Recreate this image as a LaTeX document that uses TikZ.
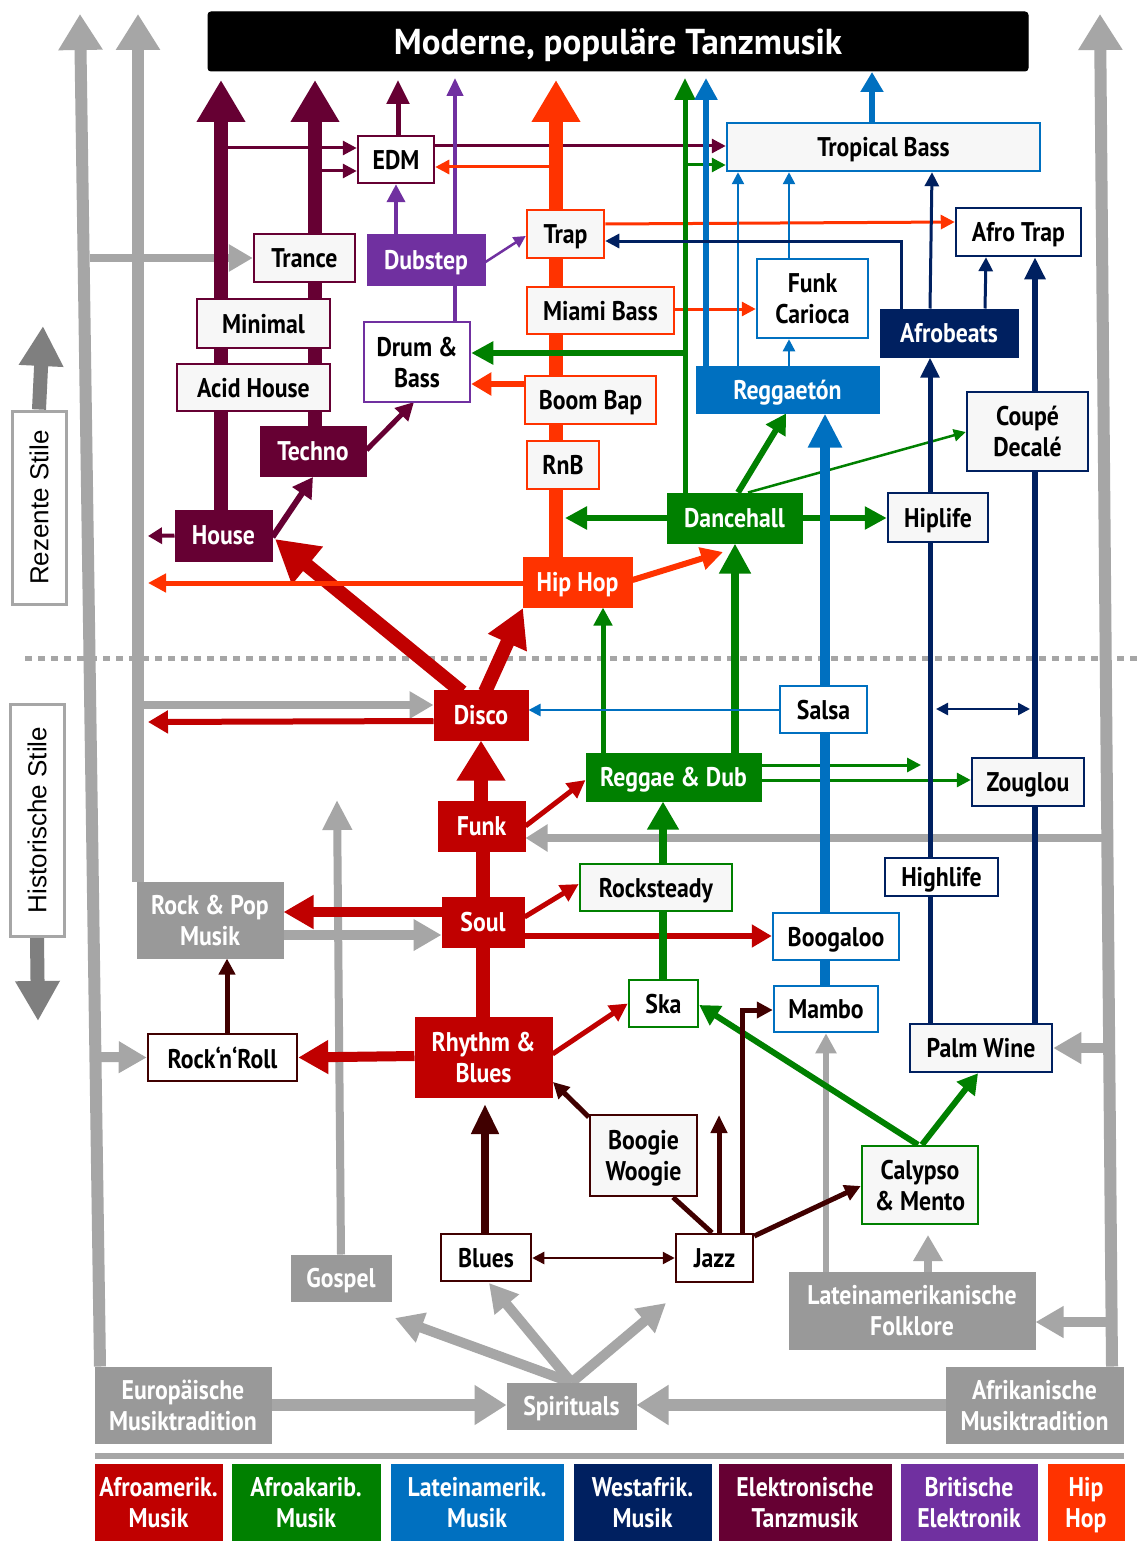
\documentclass[tikz,border=0pt]{standalone}
\usepackage{fontspec}
\setmainfont{PT Sans}[FakeStretch=0.88]
\newfontfamily\titlefont{PT Sans}[FakeStretch=0.97]
\newfontfamily\labfont{Liberation Sans}
\usetikzlibrary{arrows.meta,calc}
\definecolor{afr}{HTML}{C00000}
\definecolor{gre}{HTML}{008000}
\definecolor{lat}{HTML}{0070C0}
\definecolor{wes}{HTML}{002060}
\definecolor{ele}{HTML}{660033}
\definecolor{bri}{HTML}{7030A0}
\definecolor{hip}{HTML}{FF3300}
\definecolor{brn}{HTML}{400000}
\definecolor{gln}{HTML}{A6A6A6}
\definecolor{gbx}{HTML}{999999}
\definecolor{lbg}{HTML}{F7F7F7}
\definecolor{gar}{HTML}{7F7F7F}
\tikzset{
  wb/.style={draw=#1, fill=lbg, line width=2.5pt, text=black, inner sep=0pt, align=center, text depth=0pt},
  fb/.style={draw=#1, fill=#1, line width=1pt, text=white, inner sep=0pt, align=center, text depth=0pt},
  aw/.style n args={3}{line width=#1pt, -{Triangle[width=#2pt,length=#3pt]}},
  dw/.style n args={3}{line width=#1pt, {Triangle[width=#2pt,length=#3pt]}-{Triangle[width=#2pt,length=#3pt]}},
  every node/.style={font=\bfseries\fontsize{27}{31}\selectfont}
}
\newcommand\bx[7]{\node[#1, minimum width={(#4)-(#2)}, minimum height={(#5)-(#3)}] (#6) at ({((#2)+(#4))/2},{((#3)+(#5))/2}) {#7};}
\begin{document}
\begin{tikzpicture}[x=1pt,y=-1pt]
\fill[white] (0,0) rectangle (1141,1541);
\useasboundingbox (0,0) rectangle (1141,1541);

\pgfdeclarelayer{front}
\pgfsetlayers{main,front}
\begin{pgfonlayer}{front}
\bx{fb=black,rounded corners=3pt,font=\titlefont\bfseries\fontsize{36}{40}\selectfont}{208}{12}{1028}{71}{Title}{Moderne, populäre Tanzmusik}
\bx{wb=ele,fill=white}{358}{136}{434}{183}{EDM}{EDM}
\bx{wb=lat}{727}{123}{1040}{171}{TB}{Tropical Bass}
\bx{wb=ele}{254}{234}{355}{282}{Trance}{Trance}
\bx{fb=bri}{367}{234}{485}{285}{Dub}{Dubstep}
\bx{wb=hip}{527}{210}{604}{258}{Trap}{Trap}
\bx{wb=wes,fill=white}{956}{208}{1081}{256}{AT}{Afro Trap}
\bx{wb=ele}{197}{299}{330}{348}{Min}{Minimal}
\bx{wb=hip}{527}{287}{674}{334}{MB}{Miami Bass}
\bx{wb=lat,fill=white}{757}{259}{868}{338}{FC}{Funk\\Carioca}
\bx{fb=wes}{880}{309}{1018}{357}{AB}{Afrobeats}
\bx{wb=bri,fill=white}{364}{322}{470}{402}{DnB}{Drum \&\\Bass}
\bx{wb=ele}{177}{364}{330}{411}{AH}{Acid House}
\bx{wb=hip}{525}{376}{656}{424}{BB}{Boom Bap}
\bx{fb=lat}{696}{366}{879}{413}{Reg}{Reggaetón}
\bx{wb=wes}{967}{392}{1088}{471}{CD}{Coupé\\Decalé}
\bx{fb=ele}{260}{426}{366}{476}{Tech}{Techno}
\bx{wb=hip}{527}{441}{599}{489}{RnB}{RnB}
\bx{fb=gre}{667}{493}{802}{543}{DH}{Dancehall}
\bx{wb=wes}{888}{493}{988}{542}{HL}{Hiplife}
\bx{fb=ele}{175}{510}{272}{561}{House}{House}
\bx{fb=hip}{523}{557}{632}{607}{HH}{Hip Hop}
\bx{fb=afr}{434}{690}{528}{740}{Disco}{Disco}
\bx{wb=lat,fill=white}{780}{686}{867}{733}{Salsa}{Salsa}
\bx{fb=gre}{586}{753}{761}{801}{RD}{Reggae \& Dub}
\bx{wb=wes}{972}{758}{1084}{806}{Zou}{Zouglou}
\bx{fb=afr}{438}{801}{525}{851}{Funk}{Funk}
\bx{fb=gbx}{137}{882}{283}{958}{RP}{Rock \& Pop\\Musik}
\bx{wb=gre}{580}{864}{732}{911}{RS}{Rocksteady}
\bx{wb=wes,fill=white}{885}{858}{998}{896}{HiL}{Highlife}
\bx{fb=afr}{442}{897}{524}{947}{Soul}{Soul}
\bx{wb=lat,fill=white}{773}{913}{899}{960}{Boog}{Boogaloo}
\bx{wb=gre,fill=white}{629}{980}{698}{1027}{Ska}{Ska}
\bx{wb=lat,fill=white}{774}{986}{878}{1032}{Mambo}{Mambo}
\bx{wb=wes}{910}{1024}{1052}{1072}{PW}{Palm Wine}
\bx{wb=brn,fill=white}{148}{1034}{297}{1081}{RnR}{Rock‘n‘Roll}
\bx{fb=afr}{415}{1017}{552}{1097}{RB}{Rhythm \&\\Blues}
\bx{wb=brn}{590}{1115}{697}{1196}{BW}{Boogie\\Woogie}
\bx{wb=gre}{862}{1146}{978}{1224}{Cal}{Calypso\\\& Mento}
\bx{fb=gbx}{291}{1255}{391}{1301}{Gos}{Gospel}
\bx{wb=brn,fill=white}{441}{1234}{531}{1281}{Blues}{Blues}
\bx{wb=brn,fill=white}{676}{1234}{753}{1282}{Jazz}{Jazz}
\bx{fb=gbx}{789}{1272}{1035}{1349}{LF}{Lateinamerikanische\\Folklore}
\bx{fb=gbx}{95}{1367}{271}{1443}{EM}{Europäische\\Musiktradition}
\bx{fb=gbx}{507}{1383}{636}{1429}{Spi}{Spirituals}
\bx{fb=gbx}{946}{1367}{1123}{1443}{AM}{Afrikanische\\Musiktradition}
% legend
\bx{fb=afr}{95}{1464}{222}{1541}{Lg1}{Afroamerik.\\Musik}
\bx{fb=gre}{232}{1464}{380}{1541}{Lg2}{Afroakarib.\\Musik}
\bx{fb=lat}{391}{1464}{563}{1541}{Lg3}{Lateinamerik.\\Musik}
\bx{fb=wes}{574}{1464}{711}{1541}{Lg4}{Westafrik.\\Musik}
\bx{fb=ele}{719}{1464}{891}{1541}{Lg5}{Elektronische\\Tanzmusik}
\bx{fb=bri}{901}{1464}{1037}{1541}{Lg6}{Britische\\Elektronik}
\bx{fb=hip}{1048}{1464}{1124}{1541}{Lg7}{Hip\\Hop}
% side labels
\node[draw=gln, fill=white, line width=3pt, rotate=90, minimum width=193, minimum height=54, inner sep=0pt, font=\labfont\fontsize{26}{30}\selectfont] (Rez) at (39,507.5) {Rezente Stile};
\node[draw=gln, fill=white, line width=3pt, rotate=90, minimum width=232, minimum height=54, inner sep=0pt, font=\labfont\fontsize{26}{30}\selectfont] (Hist) at (37,820) {Historische Stile};
\end{pgfonlayer}

\coordinate (RezTip) at (43,326);
\coordinate (HistTip) at (38,1021);
\draw[gar, aw={14}{42}{40}] (Rez.east) -- (RezTip);
\draw[gar, aw={14}{42}{40}] (Hist.west) -- (HistTip);

% dotted separator and bottom rule
\draw[gln, line width=5pt, dash pattern=on 7pt off 6pt] (25,658) -- (1141,658);
\draw[gln, line width=6pt] (95,1456) -- (1124,1456);

% ---------- grey lines
\draw[gln, aw={12}{42}{36}] (EM.north -| 100,0) -- (80,14);
\draw[gln, aw={12}{42}{36}] (RP.north -| 138,0) -- (138,14);
\draw[gln, aw={12}{42}{36}] (AM.north -| 1112,0) -- (1100,14);
\draw[gln, aw={8}{26}{24}] (90,258) -- (Trance.west);
\draw[gln, aw={8}{26}{24}] (138,705) -- (Disco.west |- 0,705);
\draw[gln, aw={10}{30}{28}] (RP.east |- 0,935) -- (Soul.west |- 0,935);
\draw[gln, aw={10}{30}{28}] (97,1057) -- (RnR.west);
\draw[gln, aw={8}{26}{22}] (1107,838) -- (Funk.east |- 0,838);
\draw[gln, aw={10}{30}{28}] (1115,1048) -- (PW.east);
\draw[gln, aw={10}{30}{28}] (1113,1322) -- (LF.east |- 0,1322);
\draw[gln, aw={12}{38}{32}] (EM.east |- 0,1405) -- (Spi.west |- 0,1405);
\draw[gln, aw={12}{38}{32}] (AM.west |- 0,1405) -- (Spi.east |- 0,1405);
\draw[gln, aw={10}{30}{28}] (Spi.north) -- (395,1318);
\draw[gln, aw={10}{30}{28}] (Spi.north) -- (489,1283);
\draw[gln, aw={10}{30}{28}] (Spi.north) -- (666,1303);
\draw[gln, aw={8}{28}{30}] (Gos.north) -- (337,800);
\draw[gln, aw={6}{20}{20}] (LF.north -| Mambo.south) -- (Mambo.south);
\draw[gln, aw={8}{28}{26}] (LF.north -| 928,0) -- (928,1235);

% ---------- thick red spine
\draw[afr, line width=14pt] (RB.north -| 483,0) -- (Soul.south -| 483,0);
\draw[afr, line width=14pt] (Soul.north -| 483,0) -- (Funk.south -| 483,0);
\draw[afr, aw={14}{46}{40}] (Funk.north -| 481,0) -- (Disco.south -| 481,0);
\draw[afr, aw={14}{46}{42}] (462,692) -- (275,539);
\draw[afr, aw={14}{40}{38}] (485,692) -- (523,608);
\draw[afr, aw={6}{22}{20}] (Disco.west |- 0,721) -- (148,722);
\draw[afr, aw={10}{32}{30}] (Soul.west |- 0,912) -- (RP.east |- 0,912);
\draw[afr, aw={10}{32}{30}] (RB.west |- 0,1056) -- (RnR.east);
\draw[afr, aw={5}{18}{18}] (Funk.east |- 0,826) -- (RD.west |- 0,780);
\draw[afr, aw={5}{18}{18}] (Soul.east |- 0,917) -- (RS.west |- 0,884);
\draw[afr, aw={6}{22}{20}] (Soul.east |- 0,936) -- (Boog.west |- 0,936);
\draw[afr, aw={5}{18}{18}] (RB.east |- 0,1054) -- (Ska.west);

% ---------- electronic dance music (maroon)
\draw[ele, aw={14}{46}{42}] (House.north -| 221,0) -- (221,80);
\draw[ele, aw={14}{46}{42}] (Tech.north -| 315,0) -- (315,80);
\draw[ele, aw={5}{22}{24}] (EDM.north -| 398,0) -- (398,80);
\draw[ele, aw={3}{14}{14}] (221,148) -- (EDM.west |- 0,148);
\draw[ele, aw={3}{14}{14}] (EDM.east |- 0,146) -- (TB.west |- 0,146);
\draw[ele, aw={3}{14}{14}] (315,171) -- (EDM.west |- 0,171);
\draw[ele, aw={5}{18}{18}] (Tech.east |- 0,450) -- (414,402);
\draw[ele, aw={6}{22}{20}] (House.east |- 0,537) -- (313,477);
\draw[ele, aw={4}{16}{14}] (House.west) -- (148,536);

% ---------- British electronic (purple)
\draw[bri, aw={4}{16}{18}] (DnB.north -| 455,0) -- (455,78);
\draw[bri, aw={4}{18}{18}] (Dub.north -| EDM.south) -- (EDM.south);
\draw[bri, aw={2.5}{12}{12}] (Dub.east |- 0,262) -- (Trap.west |- 0,236);

% ---------- hip hop (orange)
\draw[hip, aw={14}{46}{42}] (HH.north -| 556,0) -- (556,80);
\draw[hip, aw={3}{14}{14}] (556,167) -- (EDM.east |- 0,167);
\draw[hip, aw={6}{22}{20}] (556,384) -- (DnB.east |- 0,384);
\draw[hip, aw={3}{14}{14}] (Trap.east |- 0,224) -- (AT.west |- 0,222);
\draw[hip, aw={3}{14}{14}] (MB.east |- 0,309) -- (FC.west |- 0,309);
\draw[hip, aw={5}{18}{18}] (HH.west |- 0,583) -- (148,583);
\draw[hip, aw={6}{22}{22}] (HH.east |- 0,580) -- (723,552);

% ---------- afro-caribbean (green)
\draw[gre, aw={5}{20}{22}] (DH.north -| 685,0) -- (685,78);
\draw[gre, aw={3}{14}{14}] (685,165) -- (TB.west |- 0,165);
\draw[gre, aw={6}{22}{22}] (685,353) -- (DnB.east |- 0,353);
\draw[gre, aw={6}{22}{22}] (DH.west) -- (565,518);
\draw[gre, aw={6}{22}{22}] (DH.east) -- (HL.west |- 0,518);
\draw[gre, aw={6}{22}{20}] (DH.north -| 738,0) -- (Reg.south -| 786,0);
\draw[gre, aw={2.5}{12}{12}] (DH.north -| 748,0) -- (CD.west |- 0,432);
\draw[gre, aw={8}{30}{30}] (RD.north -| 735,0) -- (DH.south -| 735,0);
\draw[gre, aw={5}{18}{18}] (RD.north -| 603,0) -- (HH.south -| 603,0);
\draw[gre, aw={3}{14}{14}] (RD.east |- 0,765) -- (921,765);
\draw[gre, aw={3}{14}{14}] (RD.east |- 0,780) -- (Zou.west |- 0,780);
\draw[gre, aw={8}{30}{28}] (RS.north -| 663,0) -- (RD.south -| 663,0);
\draw[gre, line width=8pt] (Ska.north -| 663,0) -- (RS.south -| 663,0);
\draw[gre, aw={6}{22}{20}] (Cal.north -| 918,0) -- (Ska.east |- 0,1005);
\draw[gre, aw={6}{22}{20}] (Cal.north -| 922,0) -- (PW.south -| 978,0);

% ---------- latin american (blue)
\draw[lat, aw={6}{22}{22}] (Reg.north -| 706,0) -- (706,78);
\draw[lat, aw={6}{22}{20}] (TB.north -| 872,0) -- (872,72);
\draw[lat, aw={2.5}{12}{12}] (Reg.north -| 738,0) -- (TB.south -| 738,0);
\draw[lat, aw={2.5}{12}{12}] (FC.north -| 789,0) -- (TB.south -| 789,0);
\draw[lat, aw={2.5}{12}{12}] (Reg.north -| 789,0) -- (FC.south -| 789,0);
\draw[lat, aw={10}{32}{34}] (Mambo.north -| 825,0) -- (Reg.south -| 825,0);
\draw[lat, aw={2.5}{12}{12}] (Salsa.west |- 0,710) -- (Disco.east |- 0,710);

% ---------- west african (navy)
\draw[wes, aw={3}{14}{14}] (AB.north -| 930,0) -- (TB.south -| 932,0);
\draw[wes, aw={3}{14}{14}] (AB.north -| 901,0) -- (901,241) -- (Trap.east |- 0,241);
\draw[wes, aw={3}{14}{14}] (AB.north -| 985,0) -- (AT.south -| 986,0);
\draw[wes, aw={6}{20}{22}] (PW.north -| 1035,0) -- (AT.south -| 1035,0);
\draw[wes, aw={5}{18}{20}] (PW.north -| 930,0) -- (AB.south -| 930,0);
\draw[wes, dw={2.5}{12}{12}] (936,709) -- (1030,709);

% ---------- blues / jazz (dark brown)
\draw[brn, aw={5}{16}{16}] (RnR.north -| 227,0) -- (RP.south -| 227,0);
\draw[brn, aw={5}{16}{16}] (BW.west |- 0,1117) -- (553,1082);
\draw[brn, aw={8}{26}{30}] (Blues.north -| 485,0) -- (485,1104);
\draw[brn, dw={2.5}{12}{12}] (Blues.east |- 0,1258) -- (Jazz.west |- 0,1258);
\draw[brn, line width=5pt] (Jazz.north -| 712,0) -- (BW.south -| 673,0);
\draw[brn, aw={5}{16}{18}] (Jazz.north -| 719,0) -- (719,1115);
\draw[brn, aw={5}{16}{16}] (Jazz.north -| 742,0) -- (742,1010) -- (Mambo.west |- 0,1010);
\draw[brn, aw={5}{16}{16}] (Jazz.east |- 0,1236) -- (Cal.west |- 0,1186);
\end{tikzpicture}
\end{document}
